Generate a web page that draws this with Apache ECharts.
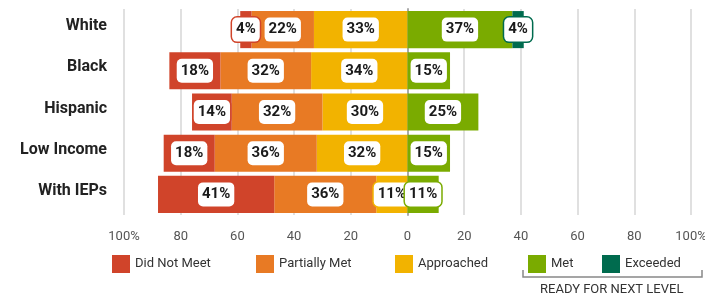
<!DOCTYPE html>
<html>
<head>
<meta charset="utf-8">
<script src="https://cdn.jsdelivr.net/npm/echarts@6/dist/echarts.min.js"></script>
<style>
  html, body { margin: 0; padding: 0; background: #fff; }
  #chart1 { width: 705px; height: 299px; }
</style>
</head>
<body>
<div id="chart1"></div>
<script>
// groups, top to bottom
var categories = ['White', 'Black', 'Hispanic', 'Low Income', 'With IEPs'];
// percent of students per level
var didNotMeet = [4, 18, 14, 18, 41];
var partiallyMet = [22, 32, 32, 36, 36];
var approached = [33, 34, 30, 32, 11];
var met = [37, 15, 25, 15, 11];
var exceeded = [4, 0, 0, 0, 0];
var tickLabels = { '-100': '100%', '100': '100%' };

var colors = {
    'Did Not Meet': '#D0442A',
    'Partially Met': '#E87A24',
    'Approached': '#F2B300',
    'Met': '#7AAB00',
    'Exceeded': '#006B4E'
};

function toData(list, sign) {
    var out = [];
    for (var i = 0; i < list.length; i++) {
        if (list[i]) {
            out.push(sign * list[i]);
        } else {
            out.push({ value: 0, label: { show: false } });
        }
    }
    return out;
}

function makeSeries(name, list, sign) {
    return {
        name: name,
        type: 'bar',
        stack: 'total',   // negatives and positives stack apart on their own
        barCategoryGap: '10%',
        itemStyle: { color: colors[name] },
        label: {
            show: true,
            position: 'inside',
            formatter: function (p) { return Math.abs(p.value) + '%'; },
            color: '#1a1a1a',
            fontFamily: 'Roboto',
            fontWeight: 'bold',
            fontSize: 15,
            backgroundColor: '#fff',
            borderColor: colors[name],
            borderWidth: 1.5,
            borderRadius: 5,
            padding: [5, 4, 4, 4]
        },
        data: toData(list, sign)
    };
}

var _chart1 = null;
function initChart1() {
    _chart1 = echarts.init(document.getElementById('chart1'));

    var legendNames = ['Did Not Meet', 'Partially Met', 'Approached', 'Met', 'Exceeded'];
    var legendLeft = [107, 251, 390, 523, 597];
    var legends = [];
    for (var i = 0; i < legendNames.length; i++) {
        legends.push({
            data: [legendNames[i]],
            left: legendLeft[i],
            top: 250,
            itemWidth: 18,
            itemHeight: 18,
            itemGap: 8,
            icon: 'rect',
            selectedMode: false,
            textStyle: { fontFamily: 'Roboto', fontSize: 13, color: '#333' }
        });
    }

    var option = {
        animation: false,
        legend: legends,
        grid: { left: 124, right: 14, top: 9, bottom: 84, outerBoundsMode: 'none' },
        xAxis: {
            type: 'value',
            min: -100,
            max: 100,
            interval: 20,
            axisLine: { show: false },
            axisTick: { show: false },
            splitLine: { show: true, lineStyle: { color: '#e0e0e0', width: 2 } },
            axisLabel: {
                margin: 15,
                color: '#555',
                fontFamily: 'Roboto',
                fontSize: 13,
                formatter: function (v) {
                    return tickLabels[v] || String(Math.abs(v));
                }
            }
        },
        yAxis: {
            type: 'category',
            inverse: true,
            data: categories,
            axisTick: { show: false },
            axisLine: { show: true, lineStyle: { color: '#aaa', width: 2 } },
            axisLabel: {
                margin: 17,
                color: '#222',
                fontFamily: 'Roboto',
                fontWeight: 'bold',
                fontSize: 16,
                // sit a little above the bar centre
                verticalAlign: 'bottom',
                lineHeight: 7
            }
        },
        series: [
            makeSeries('Approached', approached, -1),
            makeSeries('Partially Met', partiallyMet, -1),
            makeSeries('Did Not Meet', didNotMeet, -1),
            makeSeries('Met', met, 1),
            makeSeries('Exceeded', exceeded, 1)
        ],
        graphic: [
            {
                type: 'polyline',
                shape: { points: [[523, 270], [523, 277], [702, 277], [702, 270]] },
                style: { stroke: '#888', lineWidth: 1.5, fill: null }
            },
            {
                type: 'text',
                left: 540,
                top: 283,
                style: { text: 'READY FOR NEXT LEVEL', fontFamily: 'Roboto', fontSize: 13, fill: '#333' }
            }
        ]
    };

    _chart1.setOption(option);
}
initChart1();
</script>
</body>
</html>
